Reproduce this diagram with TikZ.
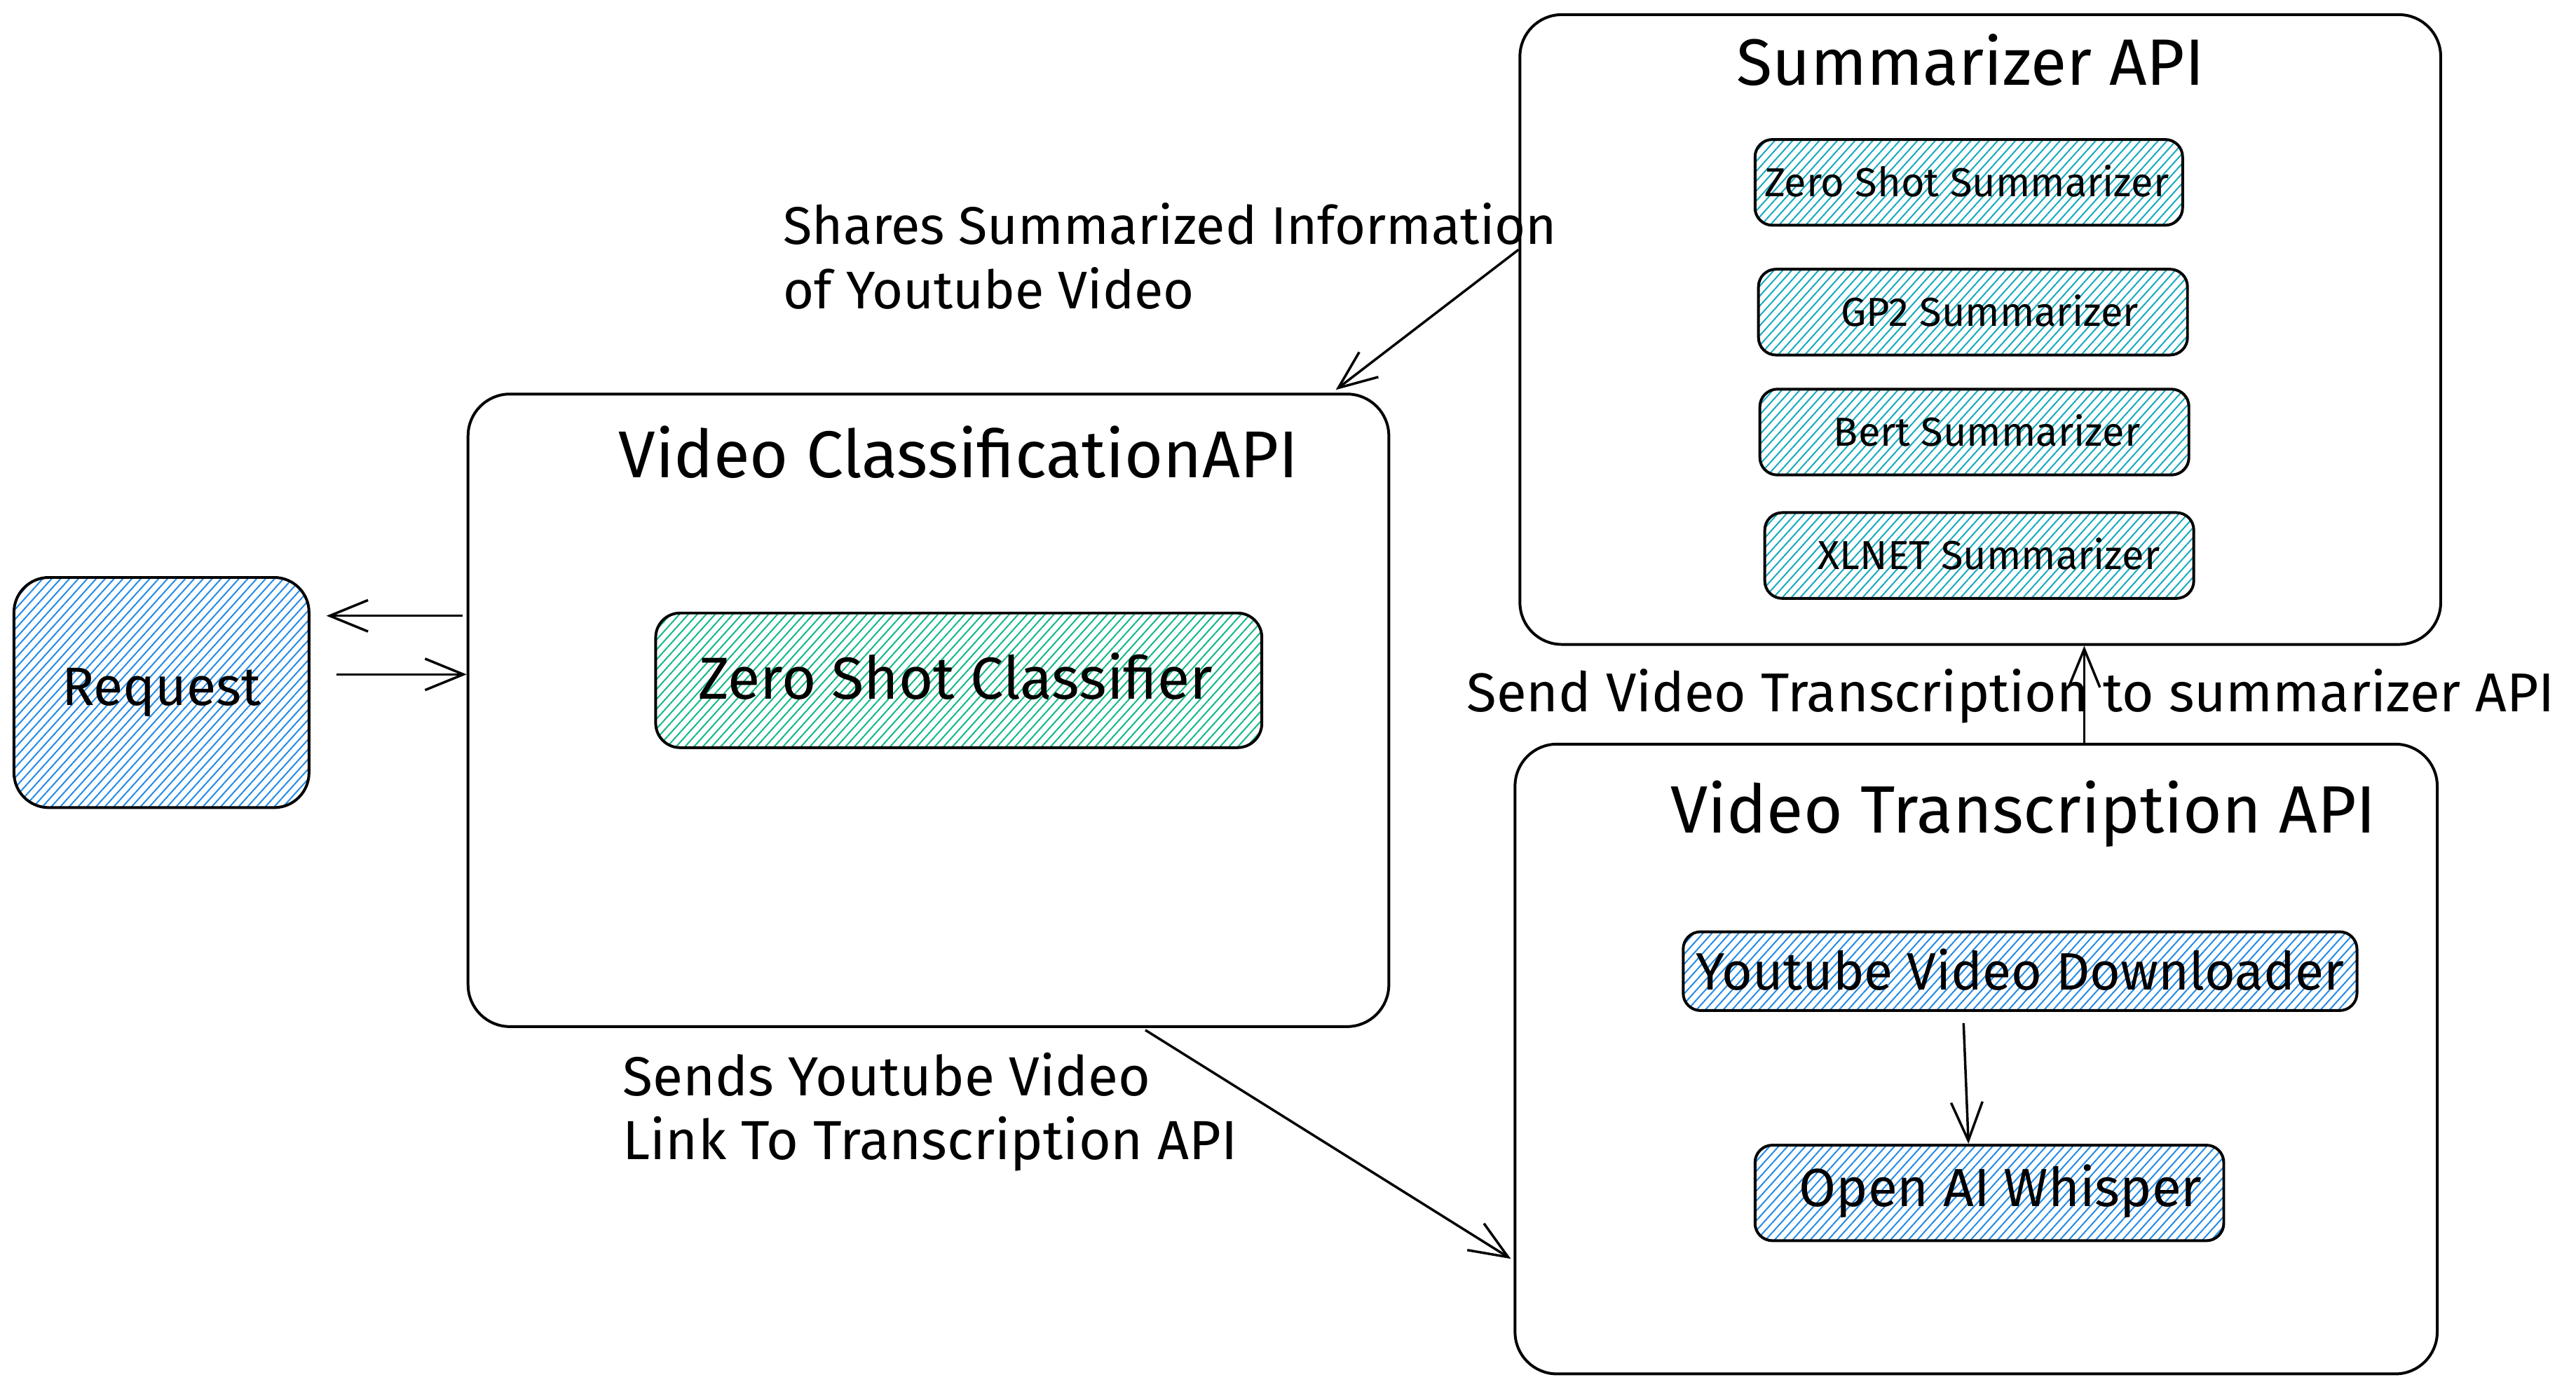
\documentclass[tikz,border=0pt]{standalone}
\usepackage{fontspec}
\setmainfont{Fira Sans}
\usetikzlibrary{arrows.meta,calc,patterns.meta}
\definecolor{hblue}{HTML}{228BE6}
\definecolor{hgreen}{HTML}{12B886}
\definecolor{hcyan}{HTML}{15AABF}
\tikzset{
  box/.style={draw=black, line width=0.8pt, rounded corners=12pt, inner sep=0pt, align=center},
  sbox/.style={draw=black, line width=0.8pt, rounded corners=5pt, inner sep=0pt, align=center},
  hatch/.style={pattern={Lines[angle=48,distance=1.9pt,line width=0.4pt]}, pattern color=#1},
  arr/.style={line width=0.7pt, -{Straight Barb[length=11pt,width=9pt]}},
  lbl/.style={inner sep=0pt, align=left},
  ttl/.style={inner sep=0pt},
  sfont/.style={font=\fontsize{11.6}{14}\selectfont},
}
\begin{document}
\begin{tikzpicture}[x=0.2pt,y=-0.2pt]
\useasboundingbox (0,0) rectangle (3693,1991);
% big containers
\node[box, minimum width=264pt, minimum height=181.4pt] (vc) at (1331,1018.5) {};
\node[box, minimum width=264pt, minimum height=180.6pt] (sum) at (2839,472.5) {};
\node[box, minimum width=264.4pt, minimum height=180.6pt] (vt) at (2833,1518.5) {};
% titles
\node[ttl, font=\fontsize{18.8}{22}\selectfont] (sumt) at (2825,86) {Summarizer API};
\node[ttl, font=\fontsize{19}{22}\selectfont] (vct) at (1374,648) {Video ClassificationAPI};
\node[ttl, font=\fontsize{19.2}{22}\selectfont] (vtt) at (2901,1167) {Video Transcription API};
% request
\node[box, rounded corners=10pt, hatch=hblue, minimum width=84.6pt, minimum height=66pt, font=\fontsize{15.5}{18}\selectfont] (req) at (231.5,993) {Request};
% classifier
\node[sbox, rounded corners=7pt, hatch=hgreen, minimum width=173.8pt, minimum height=38.6pt] (zsc) at (1374.5,975.5) {};
\node[ttl, font=\fontsize{17}{20}\selectfont] (zsct) at (1370,970) {Zero Shot Classifier};
% summarizers
\node[sbox, hatch=hcyan, minimum width=122.6pt, minimum height=24.6pt] (zss) at (2822.5,261.5) {};
\node[sbox, hatch=hcyan, minimum width=123pt, minimum height=24.6pt] (gp2) at (2828.5,447.5) {};
\node[sbox, hatch=hcyan, minimum width=123pt, minimum height=24.6pt] (bert) at (2830.5,619.5) {};
\node[sbox, hatch=hcyan, minimum width=123pt, minimum height=24.6pt] (xlnet) at (2837.5,796.5) {};
\node[ttl, sfont] (zsst) at ($(zss)+(-3,-2)$) {Zero Shot Summarizer};
\node[ttl, sfont] (gp2t) at ($(gp2)+(24,-2)$) {GP2 Summarizer};
\node[ttl, sfont] (bertt) at ($(bert)+(18,-2)$) {Bert Summarizer};
\node[ttl, sfont] (xlnett) at ($(xlnet)+(14,-2)$) {XLNET Summarizer};
% transcription
\node[sbox, hatch=hblue, minimum width=193.2pt, minimum height=22.6pt] (yvd) at (2896,1392.5) {};
\node[ttl, font=\fontsize{15.1}{17}\selectfont] (yvdt) at ($(yvd)+(0,-2)$) {Youtube Video Downloader};
\node[sbox, hatch=hblue, minimum width=134.4pt, minimum height=27.4pt] (oaw) at (2852,1710.5) {};
\node[ttl, font=\fontsize{15.4}{17}\selectfont] (oawt) at ($(oaw)+(16,-2)$) {Open AI Whisper};
% labels
\node[lbl, anchor=north west, font=\fontsize{15.2}{18.4}\selectfont] (l1) at (1122,290) {Shares Summarized Information\\of Youtube Video};
\node[lbl, anchor=north west, font=\fontsize{15.8}{18.4}\selectfont] (l2) at (892,1508) {Sends Youtube Video\\Link To Transcription API};
\node[lbl, anchor=west, font=\fontsize{15.7}{17}\selectfont] (l3) at (2102,998) {Send Video Transcription to summarizer API};
% connectors
\draw[arr] ($(vc.west |- req.east)+(-6,-110)$) -- ($(req.east)+(24,-110)$);
\draw[arr] ($(req.east)+(38,-26)$) -- ($(vc.west |- req.east)+(0,-26)$);
\draw[arr] ($(sum.west)+(0,-114.5)$) -- ($(vc.north east)+(-78,-4)$);
\draw[arr] ($(vc.south)+(311,3)$) -- ($(vt.west)+(-4,286.5)$);
\coordinate (tsA) at ($(vt.north)+(155,0)$);
\draw[arr] (tsA) -- (tsA |- sum.south);
\draw[arr] ($(yvd.south)+(-81,16)$) -- ($(oaw.north)+(-30,0)$);
\end{tikzpicture}
\end{document}
